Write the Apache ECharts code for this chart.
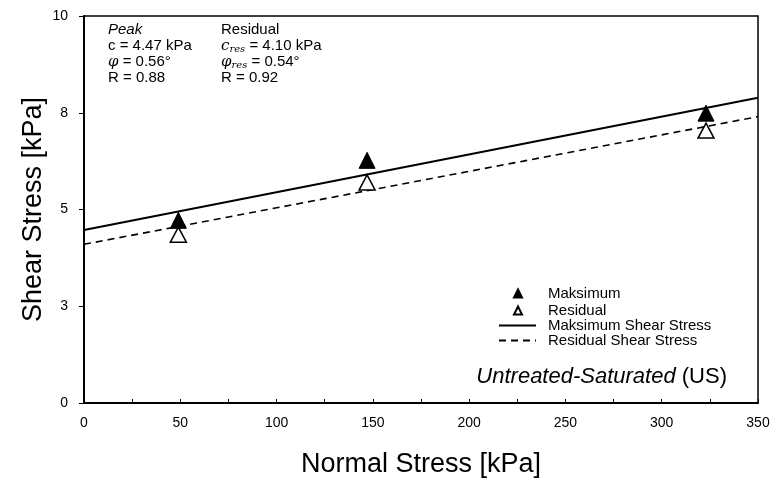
<!DOCTYPE html>
<html>
<head>
<meta charset="utf-8">
<script src="https://cdn.jsdelivr.net/npm/echarts@6/dist/echarts.min.js"></script>
<style>
  html, body { margin: 0; padding: 0; background: #fff; }
  #main { width: 771px; height: 478px; }
</style>
</head>
<body>
<div id="main"></div>
<script>
// normal stress of the three tests
const normalStress = [49, 147, 323];
// peak and residual shear stress
const peakStress = [4.72, 6.27, 7.49];
const residualStress = [4.35, 5.70, 7.04];
// fitted envelopes (end points at 0 and 350 kPa)
const peakLine = [[0, 4.47], [350, 7.89]];
const residualLine = [[0, 4.10], [350, 7.40]];

const FONT = '"Liberation Sans", Arial, sans-serif';
const SERIF = '"DejaVu Serif", serif';

const myChart = echarts.init(document.querySelector('#main'));

const option = {
  animation: false,
  textStyle: { fontFamily: FONT, color: '#000' },
  grid: {
    left: 84, right: 13, top: 16, bottom: 75,
    outerBoundsMode: 'none',
    containLabel: false,
    show: true,
    borderColor: '#000',
    borderWidth: 1.5
  },
  xAxis: {
    type: 'value',
    min: 0, max: 350, interval: 25,
    name: 'Normal Stress [kPa]',
    nameLocation: 'middle',
    nameGap: 48,
    nameTextStyle: { fontSize: 27, fontFamily: FONT, color: '#000' },
    axisLine: { show: true, lineStyle: { color: '#000', width: 2 } },
    axisTick: { show: true, inside: true, length: 4, lineStyle: { color: '#000', width: 1 } },
    axisLabel: {
      fontSize: 14, color: '#000', margin: 13,
      formatter: v => (v % 50 === 0 ? String(v) : '')
    },
    splitLine: { show: false }
  },
  yAxis: {
    type: 'value',
    min: 0, max: 10, interval: 2.5,
    name: 'Shear Stress [kPa]',
    nameLocation: 'middle',
    nameGap: 37,
    nameMoveOverlap: false,
    nameTextStyle: { fontSize: 27, fontFamily: FONT, color: '#000' },
    axisLine: { show: true, lineStyle: { color: '#000', width: 2 } },
    axisTick: { show: true, inside: false, length: 5, lineStyle: { color: '#000', width: 1 } },
    axisLabel: {
      fontSize: 14, color: '#000', margin: 16,
      formatter: v => String(Math.round(v))
    },
    splitLine: { show: false }
  },
  legend: [
    {
      // marker entries
      orient: 'vertical',
      left: 508,
      top: 281,
      itemWidth: 8,
      itemHeight: 8,
      itemGap: 2,
      textStyle: { fontSize: 15, lineHeight: 15, color: '#000', fontFamily: FONT, padding: [0, 0, 0, 21] },
      data: [
        { name: 'Maksimum', icon: 'triangle' },
        { name: 'Residual', icon: 'triangle' }
      ]
    },
    {
      // envelope entries, dot of the line icon hidden
      orient: 'vertical',
      left: 493,
      top: 313,
      itemWidth: 37,
      itemHeight: 8,
      itemGap: 0,
      textStyle: { fontSize: 15, lineHeight: 14, color: '#000', fontFamily: FONT, padding: [0, 0, 0, 7] },
      data: [
        { name: 'Maksimum Shear Stress', itemStyle: { opacity: 0 } },
        { name: 'Residual Shear Stress', itemStyle: { opacity: 0 } }
      ]
    }
  ],
  series: [
    {
      name: 'Maksimum Shear Stress',
      type: 'line',
      data: peakLine,
      symbol: 'none',
      lineStyle: { color: '#000', width: 2 },
      itemStyle: { color: '#000' },
      z: 2
    },
    {
      name: 'Residual Shear Stress',
      type: 'line',
      data: residualLine,
      symbol: 'none',
      lineStyle: { color: '#000', width: 1.6, type: [7, 5] },
      itemStyle: { color: '#000' },
      z: 2
    },
    {
      name: 'Maksimum',
      type: 'scatter',
      symbol: 'triangle',
      symbolSize: [16, 16],
      data: normalStress.map((x, i) => [x, peakStress[i]]),
      itemStyle: { color: '#000', borderColor: '#000', borderWidth: 1, opacity: 1 },
      z: 3
    },
    {
      name: 'Residual',
      type: 'scatter',
      symbol: 'triangle',
      symbolSize: [16, 15],
      data: normalStress.map((x, i) => [x, residualStress[i]]),
      itemStyle: { color: '#fff', borderColor: '#000', borderWidth: 1.5, opacity: 1 },
      z: 3
    }
  ],
  graphic: [
    {
      type: 'text', left: 108, top: 22,
      style: {
        text: [
          '{it|Peak}',
          'c = 4.47 kPa',
          '{phi|φ} = 0.56°',
          'R = 0.88'
        ].join('\n'),
        font: '15px ' + FONT,
        fill: '#000',
        lineHeight: 16,
        rich: {
          it: { fontStyle: 'italic', fontSize: 15, lineHeight: 16 },
          phi: { fontStyle: 'italic', fontFamily: SERIF, fontSize: 15, lineHeight: 16 }
        }
      }
    },
    {
      type: 'text', left: 221, top: 22,
      style: {
        text: [
          'Residual',
          '{ci|c}{sub|res} = 4.10 kPa',
          '{phi|φ}{sub|res} = 0.54°',
          'R = 0.92'
        ].join('\n'),
        font: '15px ' + FONT,
        fill: '#000',
        lineHeight: 16,
        rich: {
          ci: { fontStyle: 'italic', fontFamily: SERIF, fontSize: 15, lineHeight: 16 },
          phi: { fontStyle: 'italic', fontFamily: SERIF, fontSize: 15, lineHeight: 16 },
          sub: { fontStyle: 'italic', fontFamily: SERIF, fontSize: 10, lineHeight: 16, padding: [7, 0, 0, 0] }
        }
      }
    },
    {
      type: 'text', right: 44, top: 366,
      style: {
        text: '{it|Untreated-Saturated} (US)',
        font: '22px ' + FONT,
        fill: '#000',
        rich: {
          it: { fontStyle: 'italic', fontSize: 22 }
        }
      }
    }
  ]
};

myChart.setOption(option);
</script>
</body>
</html>
